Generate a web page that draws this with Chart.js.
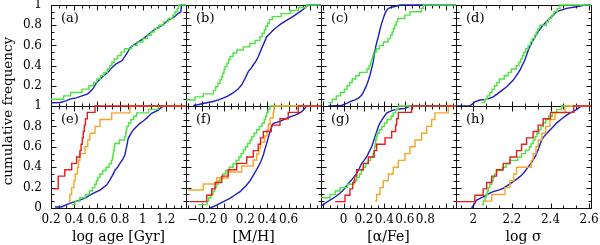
<!DOCTYPE html>
<html><head><meta charset="utf-8">
<script src="https://cdn.jsdelivr.net/npm/chart.js@4.4.1/dist/chart.umd.min.js"></script>
<style>
html,body{margin:0;padding:0;background:#fff;}
body{width:600px;height:245px;overflow:hidden;position:relative;}
canvas{position:absolute;left:0;top:0;}
</style></head><body>
<script>
// ---------------- DATA ----------------
// x-axis tick labels per column
const xTicksAge = [0.2, 0.4, 0.6, 0.8, 1, 1.2];
const xTicksMH = [-0.2, 0, 0.2, 0.4, 0.6];
const xTicksAFe = [0, 0.2, 0.4, 0.6, 0.8];
const xTicksSig = [2, 2.2, 2.4, 2.6];
const yTicksTop = [0.2, 0.4, 0.6, 0.8, 1];
const yTicksBottom = [0, 0.2, 0.4, 0.6, 0.8, 1];
const xTitles = ['log age [Gyr]', '[M/H]', '[\u03b1/Fe]', 'log \u03c3'];
const panelLetters = ['a', 'b', 'c', 'd', 'e', 'f', 'g', 'h'];
const yTitle = 'cumulative frequency';

// (a) log age, top row
const aGreenX = [0.10,0.31,0.37,0.47,0.53,0.57,0.60,0.63,0.66,0.69,0.71,0.73,0.75,0.78,0.81,0.84,0.90,0.95,1.00,1.04,1.07,1.10,1.14,1.18,1.22,1.26,1.28,1.30,1.31,1.375];
const aGreenY = [0.067,0.10,0.133,0.167,0.20,0.233,0.267,0.30,0.333,0.367,0.40,0.433,0.467,0.50,0.533,0.567,0.60,0.633,0.667,0.70,0.733,0.767,0.80,0.833,0.867,0.90,0.933,0.967,1.0,1.0];
const aBlueX = [0.10,0.28,0.33,0.37,0.42,0.47,0.52,0.55,0.57,0.59,0.62,0.66,0.70,0.73,0.77,0.82,0.86,0.89,0.93,0.98,1.03,1.07,1.12,1.17,1.22,1.27,1.31,1.33,1.335,1.375];
const aBlueY = [0.027,0.035,0.05,0.07,0.08,0.10,0.12,0.15,0.18,0.22,0.26,0.30,0.34,0.38,0.42,0.45,0.52,0.58,0.61,0.65,0.69,0.73,0.77,0.80,0.85,0.88,0.92,0.93,1.0,1.0];

// (b) [M/H], top row
const bGreenX = [-0.45,-0.267,-0.19,-0.097,-0.075,-0.055,-0.035,-0.023,-0.01,0.002,0.011,0.03,0.045,0.057,0.085,0.12,0.18,0.24,0.29,0.335,0.355,0.375,0.39,0.405,0.42,0.45,0.53,0.62,0.69,0.767,0.9];
const bGreenY = [0.06,0.09,0.12,0.155,0.19,0.225,0.26,0.29,0.325,0.36,0.39,0.425,0.46,0.49,0.525,0.555,0.585,0.62,0.65,0.685,0.72,0.755,0.79,0.82,0.855,0.885,0.915,0.945,0.975,1.0,1.0];
const bBlueX = [-0.282,-0.24,-0.17,-0.10,-0.05,-0.007,0.04,0.085,0.13,0.166,0.20,0.227,0.25,0.273,0.30,0.32,0.35,0.375,0.397,0.43,0.458,0.50,0.536,0.57,0.613,0.66,0.706,0.745,0.78,0.9];
const bBlueY = [0.005,0.012,0.03,0.045,0.06,0.078,0.10,0.129,0.165,0.21,0.28,0.34,0.37,0.406,0.45,0.49,0.57,0.63,0.686,0.72,0.752,0.79,0.818,0.84,0.868,0.90,0.934,0.965,1.0,1.0];

// (c) [alpha/Fe], top row
const cGreenX = [-0.149,-0.11,-0.07,-0.03,0.01,0.035,0.06,0.085,0.12,0.155,0.23,0.25,0.265,0.275,0.285,0.295,0.32,0.35,0.39,0.435,0.46,0.475,0.487,0.50,0.515,0.53,0.60,0.65,0.76,0.78,1.10];
const cGreenY = [0.033,0.067,0.1,0.133,0.167,0.2,0.233,0.267,0.3,0.333,0.367,0.4,0.433,0.467,0.5,0.533,0.567,0.6,0.633,0.667,0.7,0.733,0.767,0.8,0.833,0.867,0.9,0.933,0.967,1.0,1.0];
const cBlueX = [-0.149,-0.02,0.031,0.07,0.112,0.15,0.178,0.20,0.227,0.245,0.259,0.275,0.291,0.303,0.315,0.328,0.34,0.355,0.373,0.39,0.406,0.42,0.438,0.48,0.52,0.552,1.10];
const cBlueY = [0.0,0.005,0.027,0.045,0.06,0.08,0.109,0.15,0.208,0.26,0.307,0.37,0.439,0.52,0.587,0.64,0.686,0.75,0.818,0.87,0.917,0.945,0.967,0.98,0.99,1.0,1.0];

// (d) log sigma, top row
const dGreenX = [2.043,2.06,2.072,2.085,2.097,2.11,2.122,2.135,2.16,2.18,2.197,2.222,2.236,2.245,2.254,2.262,2.272,2.284,2.295,2.305,2.318,2.326,2.335,2.345,2.378,2.39,2.405,2.418,2.435,2.449,2.61];
const dGreenY = [0.033,0.067,0.1,0.133,0.167,0.2,0.233,0.267,0.3,0.333,0.367,0.4,0.433,0.467,0.5,0.533,0.567,0.6,0.633,0.667,0.7,0.733,0.767,0.8,0.833,0.867,0.9,0.933,0.967,1.0,1.0];
const dBlueX = [1.90,1.983,2.008,2.034,2.069,2.103,2.138,2.173,2.207,2.242,2.267,2.285,2.31,2.336,2.362,2.397,2.432,2.484,2.535,2.578,2.61];
const dBlueY = [0.0,0.003,0.04,0.059,0.066,0.09,0.14,0.191,0.257,0.356,0.455,0.554,0.653,0.736,0.802,0.868,0.934,0.967,0.983,1.0,1.0];

// (e) log age, bottom row
const eRedX = [0.22,0.263,0.32,0.38,0.423,0.452,0.462,0.472,0.481,0.49,0.50,0.516,0.583,1.375];
const eRedY = [0.1875,0.3125,0.375,0.4375,0.5,0.5625,0.625,0.6875,0.75,0.8125,0.875,0.9375,1.0,1.0];
const eOrangeX = [0.35,0.365,0.38,0.40,0.41,0.43,0.44,0.452,0.496,0.52,0.539,0.583,0.626,0.728,0.887,1.375];
const eOrangeY = [0.067,0.133,0.2,0.267,0.333,0.4,0.467,0.533,0.6,0.667,0.733,0.8,0.867,0.933,1.0,1.0];
const eGreenX = [0.38,0.41,0.45,0.50,0.535,0.56,0.58,0.595,0.607,0.625,0.65,0.68,0.705,0.725,0.735,0.74,0.745,0.75,0.755,0.795,0.84,0.85,0.855,0.86,0.875,0.895,0.92,0.945,1.05,1.133,1.375];
const eGreenY = [0.033,0.067,0.1,0.133,0.167,0.2,0.233,0.267,0.3,0.333,0.367,0.4,0.433,0.467,0.5,0.533,0.567,0.6,0.633,0.667,0.7,0.733,0.767,0.8,0.833,0.867,0.9,0.933,0.967,1.0,1.0];
const eBlueX = [0.235,0.29,0.33,0.38,0.452,0.50,0.539,0.58,0.626,0.684,0.713,0.735,0.757,0.78,0.8,0.825,0.843,0.858,0.872,0.895,0.916,0.945,0.974,1.0,1.032,1.076,1.133,1.177,1.375];
const eBlueY = [0.01,0.01,0.03,0.052,0.078,0.10,0.127,0.15,0.176,0.225,0.275,0.32,0.37,0.40,0.438,0.48,0.52,0.60,0.683,0.73,0.765,0.80,0.83,0.85,0.88,0.928,0.96,1.0,1.0];

// (f) [M/H], bottom row
const fRedX = [-0.313,-0.158,-0.112,-0.081,-0.019,0.041,0.12,0.212,0.273,0.319,0.34,0.366,0.44,0.52,0.597,0.69,0.9];
const fRedY = [0.0625,0.125,0.1875,0.25,0.3125,0.375,0.4375,0.5,0.5625,0.625,0.6875,0.75,0.8125,0.875,0.9375,1.0,1.0];
const fOrangeX = [-0.33,-0.19,-0.066,0.041,0.166,0.273,0.305,0.325,0.34,0.38,0.40,0.412,0.428,0.458,0.465,0.9];
const fOrangeY = [0.176,0.235,0.294,0.353,0.412,0.47,0.53,0.588,0.647,0.706,0.765,0.824,0.882,0.941,1.0,1.0];
const fGreenX = [-0.236,-0.155,-0.14,-0.12,-0.10,-0.085,-0.07,-0.05,-0.035,-0.01,0.02,0.05,0.085,0.115,0.14,0.16,0.18,0.20,0.22,0.243,0.26,0.28,0.304,0.33,0.355,0.375,0.388,0.397,0.41,0.428,0.9];
const fGreenY = [0.033,0.067,0.1,0.133,0.167,0.2,0.233,0.267,0.3,0.333,0.367,0.4,0.433,0.467,0.5,0.533,0.567,0.6,0.633,0.667,0.7,0.733,0.767,0.8,0.833,0.867,0.9,0.933,0.967,1.0,1.0];
const fBlueX = [-0.128,-0.08,-0.035,0.01,0.057,0.10,0.15,0.18,0.212,0.245,0.273,0.30,0.319,0.345,0.366,0.38,0.397,0.412,0.428,0.445,0.458,0.49,0.52,0.55,0.582,0.62,0.659,0.69,0.721,0.745,0.767,0.9];
const fBlueY = [0.0,0.02,0.046,0.07,0.095,0.125,0.16,0.19,0.225,0.27,0.32,0.37,0.405,0.46,0.52,0.575,0.634,0.69,0.75,0.80,0.83,0.84,0.85,0.865,0.88,0.895,0.91,0.925,0.944,0.97,1.0,1.0];

// (g) [alpha/Fe], bottom row
const gRedX = [-0.083,0.015,0.063,0.09,0.11,0.129,0.194,0.243,0.30,0.324,0.406,0.471,0.51,0.52,0.536,0.666,1.10];
const gRedY = [0.0625,0.125,0.1875,0.25,0.3125,0.375,0.4375,0.5,0.5625,0.625,0.6875,0.75,0.8125,0.875,0.9375,1.0,1.0];
const gOrangeX = [0.308,0.324,0.357,0.389,0.438,0.487,0.536,0.601,0.65,0.699,0.764,0.813,0.862,0.894,1.025,1.10];
const gOrangeY = [0.067,0.133,0.2,0.267,0.333,0.4,0.467,0.533,0.6,0.667,0.733,0.8,0.867,0.933,1.0,1.0];
const gGreenX = [-0.30,-0.132,-0.08,-0.034,0.04,0.10,0.13,0.155,0.175,0.19,0.215,0.24,0.265,0.29,0.30,0.305,0.31,0.315,0.32,0.33,0.35,0.373,0.40,0.425,0.465,0.485,0.51,0.536,1.10];
const gGreenY = [0.1,0.133,0.167,0.2,0.233,0.267,0.3,0.333,0.367,0.4,0.433,0.467,0.5,0.533,0.567,0.6,0.633,0.667,0.7,0.733,0.767,0.8,0.833,0.867,0.9,0.933,0.967,1.0,1.0];
const gBlueX = [-0.25,-0.22,-0.18,-0.132,-0.08,-0.034,0.01,0.063,0.10,0.129,0.155,0.178,0.20,0.227,0.25,0.276,0.292,0.308,0.325,0.34,0.355,0.373,0.40,0.422,0.45,0.487,0.55,0.601,0.63,0.65,1.10];
const gBlueY = [0.0,0.015,0.045,0.078,0.11,0.144,0.19,0.258,0.30,0.34,0.39,0.438,0.465,0.503,0.55,0.60,0.65,0.70,0.75,0.797,0.83,0.86,0.90,0.93,0.945,0.96,0.97,0.977,0.99,1.0,1.0];

// (h) log sigma, bottom row
const hRedX = [1.85,2.008,2.051,2.069,2.095,2.12,2.155,2.19,2.224,2.25,2.276,2.31,2.336,2.362,2.40,2.52,2.61];
const hRedY = [0.0625,0.125,0.1875,0.25,0.3125,0.375,0.4375,0.5,0.5625,0.625,0.6875,0.75,0.8125,0.875,0.9375,1.0,1.0];
const hOrangeX = [2.051,2.095,2.164,2.19,2.21,2.224,2.30,2.31,2.325,2.336,2.355,2.375,2.397,2.423,2.475,2.61];
const hOrangeY = [0.067,0.133,0.2,0.267,0.333,0.4,0.467,0.533,0.6,0.667,0.733,0.8,0.867,0.933,1.0,1.0];
const hGreenX = [2.043,2.052,2.06,2.066,2.072,2.077,2.085,2.095,2.103,2.11,2.12,2.15,2.17,2.19,2.23,2.25,2.27,2.29,2.30,2.31,2.32,2.33,2.34,2.35,2.362,2.375,2.39,2.41,2.432,2.458,2.61];
const hGreenY = [0.033,0.067,0.1,0.133,0.167,0.2,0.233,0.267,0.3,0.333,0.367,0.4,0.433,0.467,0.5,0.533,0.567,0.6,0.633,0.667,0.7,0.733,0.767,0.8,0.833,0.867,0.9,0.933,0.967,1.0,1.0];
const hBlueX = [1.991,2.005,2.017,2.035,2.051,2.075,2.103,2.13,2.155,2.18,2.207,2.23,2.25,2.27,2.285,2.30,2.31,2.325,2.336,2.345,2.354,2.366,2.38,2.40,2.414,2.43,2.449,2.465,2.484,2.50,2.518,2.53,2.544,2.561,2.61];
const hBlueY = [0.0,0.04,0.078,0.095,0.11,0.135,0.16,0.175,0.193,0.225,0.258,0.29,0.32,0.365,0.405,0.44,0.47,0.52,0.57,0.62,0.667,0.70,0.73,0.77,0.797,0.83,0.86,0.885,0.91,0.93,0.944,0.96,0.977,1.0,1.0];

// ---------------- STYLE / LAYOUT ----------------
const GREEN = 'rgb(75,228,65)', BLUE = 'rgb(28,28,190)', RED = 'rgb(232,28,28)', ORANGE = 'rgb(247,165,40)';
const FONT = '"DejaVu Serif", "Liberation Serif", serif';
const COL_LEFT = [51, 186, 321, 456], COL_W = 135;
const ROW_TOP = [5, 106], ROW_BOT = [106, 208];
const COLS = [
  {min: 0.2, max: 1.375, labels: xTicksAge},
  {min: -0.35, max: 0.9, labels: xTicksMH},
  {min: -0.22, max: 1.10, labels: xTicksAFe},
  {min: 1.91, max: 2.61, labels: xTicksSig}
];
const PANELS = [
  {row: 0, col: 0, series: [[aGreenX, aGreenY, GREEN, true], [aBlueX, aBlueY, BLUE, false]]},
  {row: 0, col: 1, series: [[bGreenX, bGreenY, GREEN, true], [bBlueX, bBlueY, BLUE, false]]},
  {row: 0, col: 2, series: [[cGreenX, cGreenY, GREEN, true], [cBlueX, cBlueY, BLUE, false]]},
  {row: 0, col: 3, series: [[dGreenX, dGreenY, GREEN, true], [dBlueX, dBlueY, BLUE, false]]},
  {row: 1, col: 0, series: [[eRedX, eRedY, RED, true], [eOrangeX, eOrangeY, ORANGE, true], [eGreenX, eGreenY, GREEN, true], [eBlueX, eBlueY, BLUE, false]]},
  {row: 1, col: 1, series: [[fRedX, fRedY, RED, true], [fOrangeX, fOrangeY, ORANGE, true], [fGreenX, fGreenY, GREEN, true], [fBlueX, fBlueY, BLUE, false]]},
  {row: 1, col: 2, series: [[gRedX, gRedY, RED, true], [gOrangeX, gOrangeY, ORANGE, true], [gGreenX, gGreenY, GREEN, true], [gBlueX, gBlueY, BLUE, false]]},
  {row: 1, col: 3, series: [[hRedX, hRedY, RED, true], [hOrangeX, hOrangeY, ORANGE, true], [hGreenX, hGreenY, GREEN, true], [hBlueX, hBlueY, BLUE, false]]}
];

const fmt = v => (v < 0 ? '\u2212' + Math.abs(v) : String(v));

function drawAxisTicks(ctx, scale, lo, hi, horizontal, a) {
  const step = 0.2 / 3;
  const k0 = Math.ceil(lo / step - 1e-6), k1 = Math.floor(hi / step + 1e-6);
  for (let k = k0; k <= k1; k++) {
    const v = k * step;
    const major = (((k % 3) + 3) % 3) === 0;
    const len = major ? 5 : 3;
    const p = Math.round(scale.getPixelForValue(v)) + 0.5;
    ctx.beginPath();
    if (horizontal) {
      ctx.moveTo(p, a.B); ctx.lineTo(p, a.B - len);
      ctx.moveTo(p, a.T); ctx.lineTo(p, a.T + len);
    } else {
      ctx.moveTo(a.L, p); ctx.lineTo(a.L + len, p);
      ctx.moveTo(a.R, p); ctx.lineTo(a.R - len, p);
    }
    ctx.stroke();
  }
}

function makeFrame(p, idx) {
  const c = COLS[p.col];
  return {
    id: 'frame' + idx,
    beforeDatasetsDraw(chart) {
      const {ctx, chartArea: ca, scales} = chart;
      const a = {L: Math.round(ca.left) + 0.5, R: Math.round(ca.right) + 0.5, T: Math.round(ca.top) + 0.5, B: Math.round(ca.bottom) + 0.5};
      ctx.save();
      ctx.strokeStyle = '#111'; ctx.lineWidth = 1;
      ctx.strokeRect(a.L, a.T, a.R - a.L, a.B - a.T);
      drawAxisTicks(ctx, scales.x, c.min, c.max, true, a);
      drawAxisTicks(ctx, scales.y, 0, 1, false, a);
      ctx.restore();
    },
    afterDraw(chart) {
      const {ctx, chartArea: ca} = chart;
      ctx.save();
      ctx.fillStyle = '#000';
      ctx.font = '13px ' + FONT;
      ctx.textBaseline = 'middle'; ctx.textAlign = 'left';
      ctx.fillText('(' + panelLetters[idx] + ')', ca.left + 10, ca.top + 14);
      if (p.row === 1 && p.col === 0) {
        ctx.font = '13.5px ' + FONT;
        ctx.translate(8, 111);
        ctx.rotate(-Math.PI / 2);
        ctx.textAlign = 'center';
        ctx.fillText(yTitle, 0, 0);
      }
      ctx.restore();
    }
  };
}

PANELS.forEach((p, idx) => {
  const cv = document.createElement('canvas');
  cv.width = 600; cv.height = 245;
  document.body.appendChild(cv);
  const c = COLS[p.col];
  const L = COL_LEFT[p.col], R = L + COL_W, T = ROW_TOP[p.row], B = ROW_BOT[p.row];
  const showX = p.row === 1, showY = p.col === 0;
  const yt = p.row === 0 ? yTicksTop : yTicksBottom;
  new Chart(cv, {
    type: 'scatter',
    data: {
      datasets: p.series.map(([xs, ys, col, step]) => ({
        data: xs.map((x, k) => ({x: x, y: ys[k]})),
        showLine: true, borderColor: col, backgroundColor: col, borderWidth: 1.4,
        pointRadius: 0, pointHoverRadius: 0, stepped: step ? 'before' : false, tension: 0,
        fill: false, clip: {left: 0, right: 0, top: 2, bottom: 2}
      }))
    },
    options: {
      responsive: false, animation: false, devicePixelRatio: 1, events: [],
      layout: {padding: {left: showY ? 0 : L, right: 600 - R, top: T, bottom: showX ? 0 : 245 - B}},
      plugins: {legend: {display: false}, tooltip: {enabled: false}},
      scales: {
        x: {
          type: 'linear', position: 'bottom', min: c.min, max: c.max, display: showX,
          grid: {display: false, drawTicks: false}, border: {display: false},
          afterBuildTicks: s => { s.ticks = c.labels.map(v => ({value: v})); },
          afterFit: s => { s.height = showX ? 245 - B : 0; s.paddingLeft = 0; s.paddingRight = 0; s.paddingTop = 0; s.paddingBottom = 0; },
          ticks: {autoSkip: false, maxRotation: 0, minRotation: 0, padding: 5, color: '#000',
                  font: {family: FONT, size: 12}, callback: v => fmt(v)},
          title: {display: true, text: xTitles[p.col], color: '#000', font: {family: FONT, size: 14}, padding: {top: 0, bottom: -1}}
        },
        y: {
          type: 'linear', position: 'left', min: 0, max: 1, display: showY,
          grid: {display: false, drawTicks: false}, border: {display: false},
          afterBuildTicks: s => { s.ticks = yt.map(v => ({value: v})); },
          afterFit: s => { s.width = showY ? L : 0; s.paddingLeft = 0; s.paddingRight = 0; s.paddingTop = 0; s.paddingBottom = 0; },
          ticks: {autoSkip: false, padding: 9, color: '#000', font: {family: FONT, size: 12}, callback: v => fmt(v)}
        }
      }
    },
    plugins: [makeFrame(p, idx)]
  });
});
</script>
</body></html>
